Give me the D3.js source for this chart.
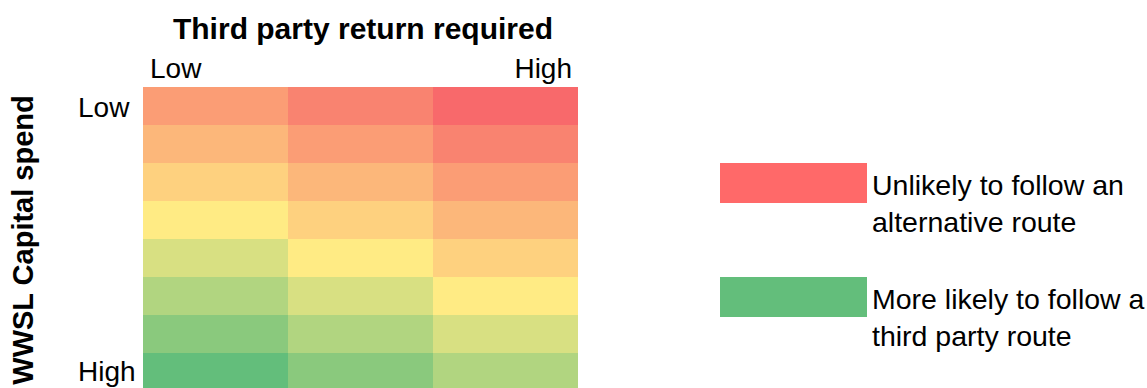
<!DOCTYPE html>
<html>
<head>
<meta charset="utf-8">
<script src="https://cdn.jsdelivr.net/npm/d3@7"></script>
<style>
  html, body { margin: 0; padding: 0; background: #fff; }
  svg { display: block; font-family: "Liberation Sans", Arial, sans-serif; }
</style>
</head>
<body>
<svg id="chart" width="1147" height="388"></svg>
<script>
// Columns: third party return required (low → high)
const returnLevels = ["r1", "r2", "r3"];
const returnTickLabels = ["Low", "", "High"];
// Rows: WWSL capital spend (low → high)
const spendLevels = ["s1", "s2", "s3", "s4", "s5", "s6", "s7", "s8"];
const spendTickLabels = ["Low", "", "", "", "", "", "", "High"];
// Likelihood of following a third party route, one array per capital spend row
const likelihood = [
  [2, 1, 0],
  [3, 2, 1],
  [4, 3, 2],
  [5, 4, 3],
  [6, 5, 4],
  [7, 6, 5],
  [8, 7, 6],
  [9, 8, 7]
];
const legendLabels = [
  ["Unlikely to follow an", "alternative route"],
  ["More likely to follow a", "third party route"]
];
const legendValues = [0, 9];

const svg = d3.select("#chart");

const x = d3.scaleBand().domain(returnLevels).range([143, 578]).padding(0);
const y = d3.scaleBand().domain(spendLevels).range([87, 391]).padding(0);
const color = d3.scaleLinear()
  .domain([0, 5, 9])
  .range(["#f8696b", "#ffeb84", "#63be7b"])
  .interpolate(d3.interpolateRgb);

// Heatmap cells
const cells = [];
likelihood.forEach((row, i) => row.forEach((v, j) => cells.push({ r: spendLevels[i], c: returnLevels[j], v })));
svg.append("g").selectAll("rect").data(cells).join("rect")
  .attr("x", d => x(d.c))
  .attr("y", d => y(d.r))
  .attr("width", x.bandwidth())
  .attr("height", y.bandwidth())
  .attr("fill", d => color(d.v));

// Chart title
svg.append("text")
  .attr("x", 363).attr("y", 39)
  .attr("text-anchor", "middle")
  .attr("font-weight", "bold").attr("font-size", 30)
  .attr("fill", "#000")
  .text("Third party return required");

// Column labels (top axis)
const topAxis = d3.axisTop(x).tickSize(0).tickFormat((d, i) => returnTickLabels[i]);
const gTop = svg.append("g").attr("transform", "translate(0,78)").call(topAxis);
gTop.select(".domain").remove();
gTop.selectAll("text")
  .attr("font-size", 28).attr("font-family", "Liberation Sans, Arial, sans-serif").attr("fill", "#000")
  .attr("y", 0).attr("dy", 0)
  .attr("text-anchor", (d, i) => i === 0 ? "start" : "end")
  .attr("x", (d, i) => i === 0 ? 150 - x(d) - x.bandwidth() / 2 : 572 - x(d) - x.bandwidth() / 2);

// Row labels (left axis)
const leftAxis = d3.axisLeft(y).tickSize(0).tickFormat((d, i) => spendTickLabels[i]);
const gLeft = svg.append("g").attr("transform", "translate(78,0)").call(leftAxis);
gLeft.select(".domain").remove();
gLeft.selectAll("text")
  .attr("font-size", 28).attr("font-family", "Liberation Sans, Arial, sans-serif").attr("fill", "#000")
  .attr("text-anchor", "start").attr("x", 0).attr("dy", 0)
  .attr("y", (d, i) => i === 0 ? 117 - y(d) - y.bandwidth() / 2 : 381 - y(d) - y.bandwidth() / 2);

// Vertical axis title
svg.append("text")
  .attr("transform", "translate(33,240) rotate(-90)")
  .attr("text-anchor", "middle")
  .attr("font-weight", "bold").attr("font-size", 29)
  .attr("fill", "#000")
  .text("WWSL Capital spend");

// Legend
const legend = svg.append("g");
const legendY = [163, 277];
legendValues.forEach((v, i) => {
  legend.append("rect")
    .attr("x", 720).attr("y", legendY[i])
    .attr("width", 147).attr("height", 40)
    .attr("fill", i === 0 ? "#ff6969" : color(v));
  legendLabels[i].forEach((line, k) => {
    legend.append("text")
      .attr("x", 872).attr("y", legendY[i] + 32 + k * 37)
      .attr("font-size", 28.5).attr("fill", "#000")
      .text(line);
  });
});
</script>
</body>
</html>
